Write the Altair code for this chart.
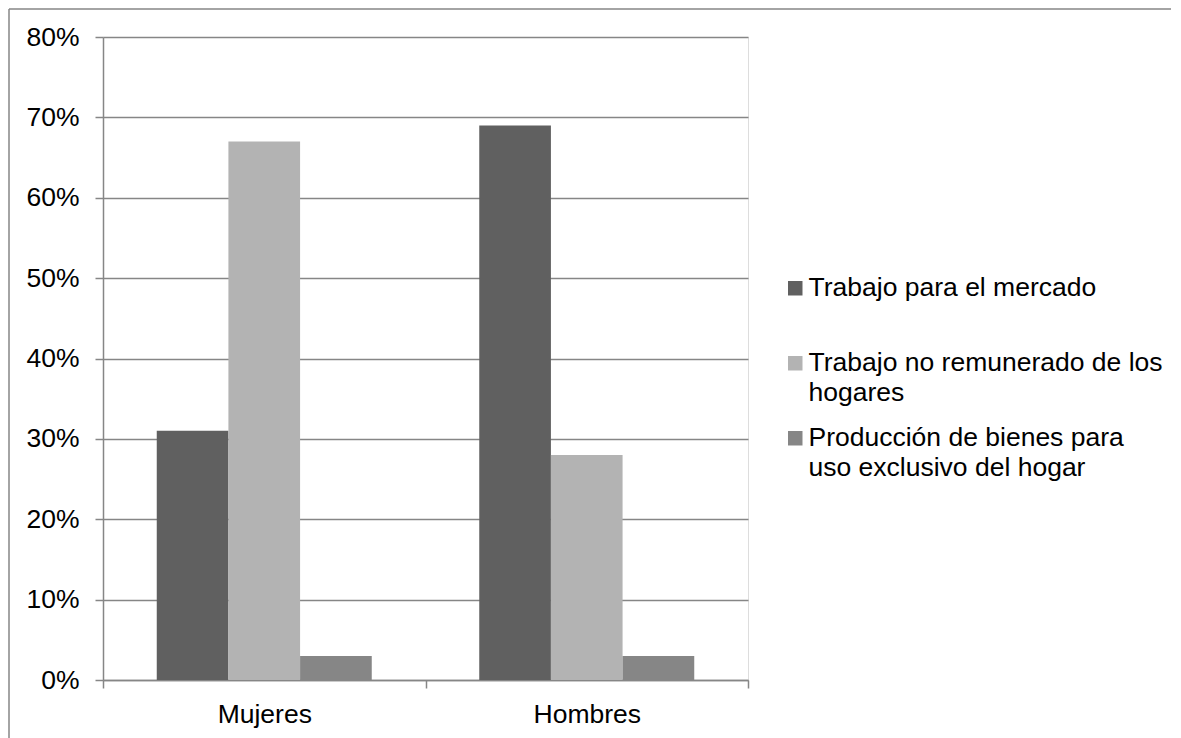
import altair as alt
import pandas as pd

groups = ["Mujeres", "Hombres"]
series = [
    "Trabajo para el mercado",
    "Trabajo no remunerado de los hogares",
    "Producción de bienes para uso exclusivo del hogar",
]
legend_lines = [
    ["Trabajo para el mercado"],
    ["Trabajo no remunerado de los", "hogares"],
    ["Producción de bienes para", "uso exclusivo del hogar"],
]
values_mujeres = [0.31, 0.67, 0.03]
values_hombres = [0.69, 0.28, 0.03]
y_ticks = [0, 0.1, 0.2, 0.3, 0.4, 0.5, 0.6, 0.7, 0.8]
colors = ["#606060", "#b3b3b3", "#868686"]

rows = []
for g, vals in zip(groups, [values_mujeres, values_hombres]):
    for s, v in zip(series, vals):
        rows.append({"grupo": g, "serie": s, "valor": v})
df = pd.DataFrame(rows)

label_expr = ""
for s, lines in zip(series, legend_lines):
    arr = "[" + ",".join("'" + l + "'" for l in lines) + "]"
    label_expr += f"datum.label == '{s}' ? {arr} : "
label_expr += "datum.label"

FONT = "Liberation Sans"
GRAY = "#868686"
FS = 26.5

bars = alt.Chart(df).mark_bar(stroke=None).encode(
    x=alt.X("grupo:N", sort=groups, title=None,
            scale=alt.Scale(paddingInner=0, paddingOuter=0),
            axis=alt.Axis(labelAngle=0, tickBand="extent", domainColor=GRAY,
                          tickColor=GRAY, tickSize=8, labelPadding=13,
                          labelFontSize=FS, labelColor="black", labelFont=FONT,
                          grid=False, domainWidth=1.5, tickWidth=1.5)),
    xOffset=alt.XOffset("serie:N", sort=series,
                        scale=alt.Scale(paddingInner=0, paddingOuter=0.75)),
    y=alt.Y("valor:Q", title=None,
            scale=alt.Scale(domain=[0, 0.8], nice=False),
            axis=alt.Axis(format=".0%", values=y_ticks,
                          domainColor=GRAY, tickColor=GRAY, tickSize=8,
                          labelPadding=16, labelFontSize=FS, labelColor="black",
                          labelFont=FONT, gridColor=GRAY, gridWidth=1.5,
                          domainWidth=1.5, tickWidth=1.5)),
    color=alt.Color("serie:N", sort=series,
                    scale=alt.Scale(domain=series, range=colors),
                    legend=alt.Legend(title=None, orient="none", legendX=679, legendY=238,
                                      symbolType="square", symbolSize=210,
                                      symbolStrokeWidth=0, labelFont=FONT,
                                      labelFontSize=FS, labelColor="black",
                                      labelExpr=label_expr, labelLimit=500,
                                      gridAlign="all", rowPadding=18,
                                      labelOffset=0, padding=0)),
)

frame = pd.DataFrame({"k": [0]})
top_edge = alt.Chart(frame).mark_rule(color=GRAY, strokeWidth=1.5, clip=False).encode(
    x=alt.value(-94), x2=alt.value(1068), y=alt.value(-28),
)
left_edge = alt.Chart(frame).mark_rule(color=GRAY, strokeWidth=1.5, clip=False).encode(
    x=alt.value(-94), y=alt.value(-28), y2=alt.value(720),
)

chart = alt.layer(top_edge, left_edge, bars).properties(
    width=645, height=643, padding={"left": 0, "top": 0, "right": 0, "bottom": 0}
).configure_view(stroke=None).configure(
    background="white", style={"guide-label": {"lineHeight": 30}}
)

chart.save("out.html", embed_options={"renderer": "svg", "actions": False})
